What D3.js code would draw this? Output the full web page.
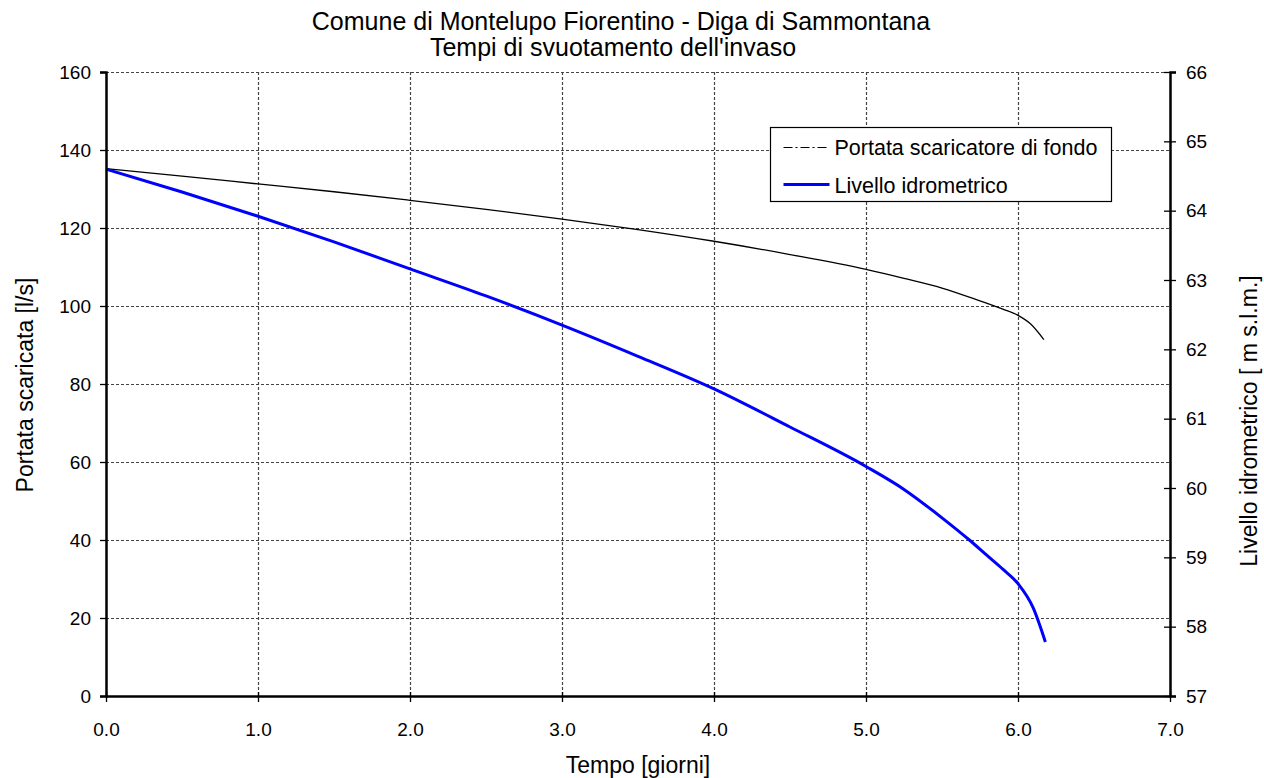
<!DOCTYPE html>
<html>
<head>
<meta charset="utf-8">
<script src="https://cdn.jsdelivr.net/npm/d3@7"></script>
<style>
  html, body { margin: 0; padding: 0; background: #fff; }
  svg { display: block; font-family: "Liberation Sans", Arial, sans-serif; }
</style>
</head>
<body>
<svg id="chart" width="1264" height="778"></svg>
<script>
// Time axis (days)
const timeTicks = ["0.0", "1.0", "2.0", "3.0", "4.0", "5.0", "6.0", "7.0"];
const leftTicks = [0, 20, 40, 60, 80, 100, 120, 140, 160];
const rightTicks = [57, 58, 59, 60, 61, 62, 63, 64, 65, 66];

// Bottom outlet discharge [l/s]
const portataT = [0, 0.5, 1.0, 1.5, 2.0, 2.5, 3.0, 3.5, 4.0, 4.5, 5.0, 5.25, 5.5, 5.75, 5.9, 6.0, 6.08, 6.17];
const portataV = [135.2, 133.3, 131.3, 129.3, 127.1, 124.8, 122.3, 119.6, 116.6, 113.2, 109.4, 107.1, 104.6, 101.3, 99.2, 97.6, 95.5, 91.4];

// Water level [m s.l.m.]
const livelloT = [0, 0.5, 1.0, 1.5, 2.0, 2.5, 3.0, 3.5, 4.0, 4.5, 5.0, 5.25, 5.5, 5.68, 5.8, 5.9, 6.0, 6.1, 6.18];
const livelloV = [64.60, 64.27, 63.92, 63.55, 63.16, 62.77, 62.35, 61.90, 61.43, 60.88, 60.31, 59.98, 59.57, 59.25, 59.02, 58.83, 58.62, 58.27, 57.78];

const svg = d3.select("#chart");
const L = 106, R = 1170, T = 72, B = 696;

const x = d3.scaleLinear().domain([0, 7]).range([L, R]);
const yL = d3.scaleLinear().domain([0, 160]).range([B, T]);
const yR = d3.scaleLinear().domain([57, 66]).range([B, T]);

// Grid
const grid = svg.append("g").attr("stroke", "#444").attr("stroke-width", 1.2).attr("stroke-dasharray", "3,2");
grid.selectAll("line.v").data(timeTicks.slice(1, -1)).enter().append("line")
  .attr("x1", d => Math.round(x(+d)) + 0.5).attr("x2", d => Math.round(x(+d)) + 0.5)
  .attr("y1", T).attr("y2", B);
grid.selectAll("line.h").data(leftTicks.slice(1)).enter().append("line")
  .attr("x1", L).attr("x2", R)
  .attr("y1", d => Math.round(yL(d)) + 0.5).attr("y2", d => Math.round(yL(d)) + 0.5);

// Series
const line = (ys) => d3.line().x(d => x(d[0])).y(d => ys(d[1])).curve(d3.curveMonotoneX);
svg.append("path")
  .datum(portataT.map((t, i) => [t, portataV[i]]))
  .attr("fill", "none").attr("stroke", "#000").attr("stroke-width", 1.3)
  .attr("d", line(yL));
svg.append("path")
  .datum(livelloT.map((t, i) => [t, livelloV[i]]))
  .attr("fill", "none").attr("stroke", "#0000ff").attr("stroke-width", 3)
  .attr("d", line(yR));

// Axes
const fs = "19px";
const axL = svg.append("g").attr("transform", `translate(${L},0)`)
  .call(d3.axisLeft(yL).tickValues(leftTicks).tickSize(6).tickPadding(9));
const axB = svg.append("g").attr("transform", `translate(0,${B})`)
  .call(d3.axisBottom(x).tickValues(timeTicks.map(Number)).tickFormat((d, i) => timeTicks[i]).tickSizeInner(6).tickSizeOuter(0).tickPadding(21));
const axR = svg.append("g").attr("transform", `translate(${R},0)`)
  .call(d3.axisRight(yR).tickValues(rightTicks).tickSize(6).tickPadding(10));

[axL, axB, axR].forEach(g => {
  g.select(".domain").attr("stroke", "#000").attr("stroke-width", 2.5);
  g.selectAll(".tick line").attr("stroke", "#000").attr("stroke-width", 1.3);
  g.selectAll("text").attr("font-size", fs).attr("fill", "#000")
    .attr("font-family", "'Liberation Sans', Arial, sans-serif");
});
axB.selectAll(".tick line").attr("y1", -4);
axR.selectAll(".tick line").attr("x1", -6);

// Titles
svg.append("text").attr("x", 621).attr("y", 30).attr("text-anchor", "middle")
  .attr("font-size", "25px").text("Comune di Montelupo Fiorentino - Diga di Sammontana");
svg.append("text").attr("x", 613).attr("y", 56).attr("text-anchor", "middle")
  .attr("font-size", "25px").text("Tempi di svuotamento dell'invaso");
svg.append("text").attr("x", 638).attr("y", 773).attr("text-anchor", "middle")
  .attr("font-size", "23px").text("Tempo [giorni]");
svg.append("text").attr("transform", "translate(33,385) rotate(-90)").attr("text-anchor", "middle")
  .attr("font-size", "23px").text("Portata scaricata [l/s]");
svg.append("text").attr("transform", "translate(1257,421) rotate(-90)").attr("text-anchor", "middle")
  .attr("font-size", "23px").text("Livello idrometrico [ m s.l.m.]");

// Legend
const lg = svg.append("g").attr("transform", "translate(770.5,127.5)");
lg.append("rect").attr("width", 341).attr("height", 74).attr("fill", "#fff").attr("stroke", "#000").attr("stroke-width", 1.2);
lg.append("line").attr("x1", 13).attr("x2", 59).attr("y1", 20).attr("y2", 20)
  .attr("stroke", "#000").attr("stroke-width", 1.2).attr("stroke-dasharray", "9,3,2,3");
lg.append("text").attr("x", 64).attr("y", 27).attr("font-size", "21.5px").text("Portata scaricatore di fondo");
lg.append("line").attr("x1", 13).attr("x2", 59).attr("y1", 57).attr("y2", 57)
  .attr("stroke", "#0000ff").attr("stroke-width", 3);
lg.append("text").attr("x", 64).attr("y", 65).attr("font-size", "21.5px").text("Livello idrometrico");
</script>
</body>
</html>
